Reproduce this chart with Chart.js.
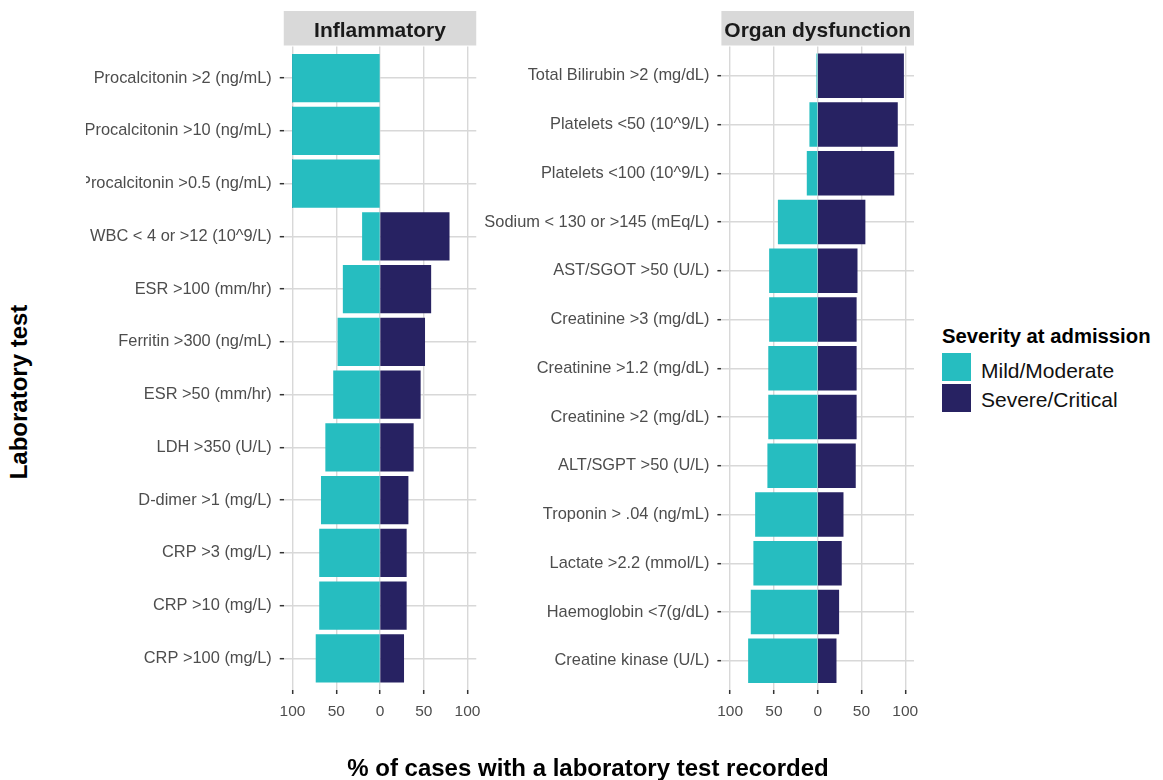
<!DOCTYPE html>
<html>
<head>
<meta charset="utf-8">
<title>Laboratory tests by severity at admission</title>
<script src="https://cdn.jsdelivr.net/npm/chart.js@4.4.1/dist/chart.umd.min.js"></script>
<style>
  html, body { margin: 0; padding: 0; background: #ffffff; }
  body { position: relative; width: 1163px; height: 780px; overflow: hidden;
         font-family: 'Liberation Sans', Arial, Helvetica, sans-serif; color: #000; }
  canvas { position: absolute; top: 0; }
  #inflamCanvas { left: 86px; }
  #organCanvas { left: 482px; }
  .ytitle { position: absolute; left: -131px; top: 380px; width: 300px; height: 24px;
            line-height: 24px; font-size: 24px; font-weight: bold; text-align: center;
            transform: rotate(-90deg); transform-origin: 50% 50%; white-space: nowrap; }
  .xtitle { position: absolute; left: 288px; top: 755.7px; width: 600px; line-height: 24px;
            font-size: 24px; font-weight: bold; text-align: center; white-space: nowrap; }
  .legend-title { position: absolute; left: 942px; top: 325.5px; font-size: 20.3px;
                  line-height: 20.3px; font-weight: bold; white-space: nowrap; }
  .legend-key { position: absolute; left: 942px; width: 29px; height: 28px; }
  .legend-label { position: absolute; left: 981px; font-size: 21px; line-height: 21px;
                  white-space: nowrap; color: #111; }
</style>
</head>
<body>
<canvas id="inflamCanvas" width="396" height="780"></canvas>
<canvas id="organCanvas" width="440" height="780"></canvas>

<div class="ytitle">Laboratory test</div>
<div class="xtitle">% of cases with a laboratory test recorded</div>

<div class="legend-title">Severity at admission</div>
<div class="legend-key" id="keyMild" style="top:353px;"></div>
<div class="legend-label" style="top:360px;">Mild/Moderate</div>
<div class="legend-key" id="keySevere" style="top:384px;"></div>
<div class="legend-label" style="top:389px;">Severe/Critical</div>

<script>
// ---- Panel: Inflammatory markers (top to bottom) ----
const inflamTests = [
  'Procalcitonin >2 (ng/mL)',
  'Procalcitonin >10 (ng/mL)',
  'Procalcitonin >0.5 (ng/mL)',
  'WBC < 4 or >12 (10^9/L)',
  'ESR >100 (mm/hr)',
  'Ferritin >300 (ng/mL)',
  'ESR >50 (mm/hr)',
  'LDH >350 (U/L)',
  'D-dimer >1 (mg/L)',
  'CRP >3 (mg/L)',
  'CRP >10 (mg/L)',
  'CRP >100 (mg/L)'
];
const inflamMild   = [100, 100, 100, 20, 42, 48, 53, 62, 67, 69, 69, 73];
const inflamSevere = [0, 0, 0, 79, 58, 51, 46, 38, 32, 30, 30, 27];

// ---- Panel: Organ dysfunction markers (top to bottom) ----
const organTests = [
  'Total Bilirubin >2 (mg/dL)',
  'Platelets <50 (10^9/L)',
  'Platelets <100 (10^9/L)',
  'Sodium < 130 or >145 (mEq/L)',
  'AST/SGOT >50 (U/L)',
  'Creatinine >3 (mg/dL)',
  'Creatinine >1.2 (mg/dL)',
  'Creatinine >2 (mg/dL)',
  'ALT/SGPT >50 (U/L)',
  'Troponin > .04 (ng/mL)',
  'Lactate >2.2 (mmol/L)',
  'Haemoglobin <7(g/dL)',
  'Creatine kinase (U/L)'
];
const organMild   = [1, 9, 12, 45, 55, 55, 56, 56, 57, 71, 73, 76, 79];
const organSevere = [98, 91, 87, 54, 45, 44, 44, 44, 43, 29, 27, 24, 21];

// Percentage axis ticks (shown as absolute values on both sides of zero)
const percentTicks = [-100, -50, 0, 50, 100];
const severityLevels = ['Mild/Moderate', 'Severe/Critical'];

const TEAL = '#26bdc0';
const NAVY = '#272262';
const GRID = '#d8d8d8';
const TEXT_GREY = '#4d4d4d';

document.getElementById('keyMild').style.background = TEAL;
document.getElementById('keySevere').style.background = NAVY;

Chart.defaults.font.family = "'Liberation Sans', Arial, Helvetica, sans-serif";

// Grey facet strip above each panel
const stripPlugin = {
  id: 'strip',
  beforeDraw(chart, args, opts) {
    const { ctx, chartArea } = chart;
    ctx.save();
    ctx.fillStyle = '#d9d9d9';
    ctx.fillRect(chartArea.left, opts.top, chartArea.right - chartArea.left, opts.bottom - opts.top);
    ctx.fillStyle = '#1a1a1a';
    ctx.font = "bold 21px 'Liberation Sans', Arial, Helvetica, sans-serif";
    ctx.textAlign = 'center';
    ctx.textBaseline = 'alphabetic';
    ctx.fillText(opts.text, (chartArea.left + chartArea.right) / 2, opts.baseline);
    ctx.restore();
  }
};

function drawPanel(canvasId, title, tests, mild, severe, axisWidth, padRight) {
  const rows = tests.map((_, i) => i);
  return new Chart(document.getElementById(canvasId), {
    type: 'bar',
    data: {
      datasets: [
        {
          label: severityLevels[0],
          data: mild.map((v, i) => ({ x: -v, y: i })),
          backgroundColor: TEAL,
          borderWidth: 0,
          inflateAmount: 0.4,
          categoryPercentage: 1,
          barPercentage: 0.9
        },
        {
          label: severityLevels[1],
          data: severe.map((v, i) => ({ x: v, y: i })),
          backgroundColor: NAVY,
          borderWidth: 0,
          inflateAmount: 0.4,
          categoryPercentage: 1,
          barPercentage: 0.9
        }
      ]
    },
    options: {
      indexAxis: 'y',
      responsive: false,
      animation: false,
      devicePixelRatio: 1,
      layout: { padding: { top: 46.5, right: padRight, bottom: 0, left: 0 } },
      plugins: {
        legend: { display: false },
        tooltip: { enabled: false },
        strip: { text: title, top: 11, bottom: 45.5, baseline: 36.7 }
      },
      scales: {
        x: {
          type: 'linear',
          stacked: true,
          min: -110,
          max: 110,
          afterBuildTicks: s => { s.ticks = percentTicks.map(v => ({ value: v })); },
          afterFit: s => { s.height = 90; s.paddingLeft = 0; s.paddingRight = 0; },
          ticks: {
            callback: v => String(Math.abs(v)),
            font: { size: 15.5 },
            color: TEXT_GREY,
            padding: 8.5,
            maxRotation: 0,
            autoSkip: false
          },
          grid: { color: GRID, lineWidth: 1.4, tickColor: '#333333', tickLength: 4, tickWidth: 1.5 },
          border: { display: false }
        },
        y: {
          type: 'linear',
          stacked: true,
          reverse: true,
          offset: false,
          min: -0.6,
          max: tests.length - 0.4,
          afterBuildTicks: s => { s.ticks = rows.map(v => ({ value: v })); },
          afterFit: s => { s.width = axisWidth; s.paddingTop = 0; s.paddingBottom = 0; },
          ticks: {
            callback: v => tests[v],
            font: { size: 16.4 },
            color: TEXT_GREY,
            padding: 8,
            autoSkip: false
          },
          grid: { offset: false, color: GRID, lineWidth: 1.4, tickColor: '#333333', tickLength: 4, tickWidth: 1.5 },
          border: { display: false }
        }
      }
    },
    plugins: [stripPlugin]
  });
}

// left canvas starts at x=86, right canvas at x=482
drawPanel('inflamCanvas', 'Inflammatory', inflamTests, inflamMild, inflamSevere, 283.75 - 86, 396 - (476.25 - 86));
drawPanel('organCanvas', 'Organ dysfunction', organTests, organMild, organSevere, 721.4 - 482, 440 - (914 - 482));
</script>
</body>
</html>
